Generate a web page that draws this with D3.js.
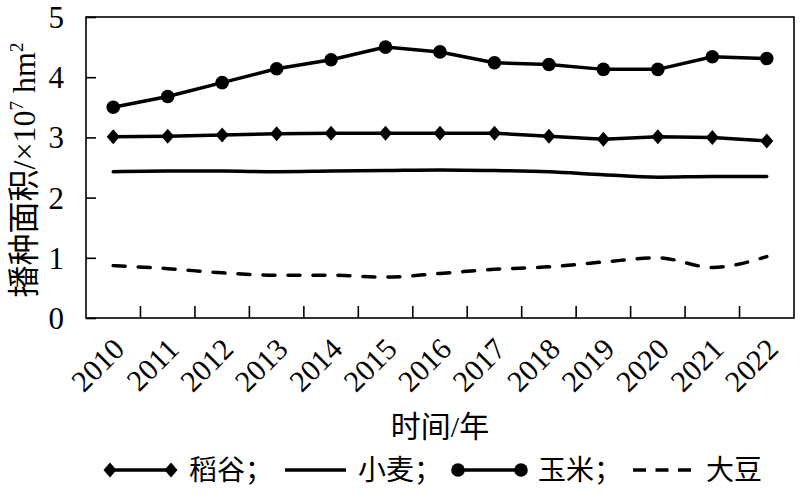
<!DOCTYPE html>
<html><head><meta charset="utf-8">
<script src="https://cdn.jsdelivr.net/npm/d3@7"></script>
<style>
body{margin:0;background:#fff;}
svg text{font-family:"Liberation Serif","Times New Roman",Times,"Noto Sans CJK SC",serif;fill:#000;}
</style></head>
<body><svg id="c" width="800" height="500"></svg>
<script>
const years = ["2010","2011","2012","2013","2014","2015","2016","2017","2018","2019","2020","2021","2022"];
const rice    = [3.01,3.02,3.04,3.06,3.07,3.07,3.07,3.07,3.02,2.97,3.01,3.00,2.94];
const wheat   = [2.43,2.44,2.44,2.43,2.44,2.45,2.46,2.45,2.43,2.38,2.34,2.35,2.35];
const corn    = [3.50,3.68,3.91,4.14,4.29,4.50,4.42,4.24,4.21,4.13,4.13,4.34,4.31];
const soybean = [0.87,0.82,0.75,0.71,0.71,0.68,0.74,0.81,0.85,0.93,1.00,0.84,1.02];
const yTicks = [0,1,2,3,4,5];
const seriesNames = ["稻谷","小麦","玉米","大豆"];

const svg = d3.select("#c");
const L=86, R=794, T=17, B=318;
const x = d3.scaleBand().domain(years).range([L,R]).padding(0);
const y = d3.scaleLinear().domain([0,5]).range([B,T]);
const cx = d => x(d)+x.bandwidth()/2;
const FONT = '"Liberation Serif","Times New Roman",Times,"Noto Sans CJK SC",serif';

// frame
svg.append("rect").attr("x",L).attr("y",T).attr("width",R-L).attr("height",B-T)
  .attr("fill","none").attr("stroke","#000").attr("stroke-width",1.6);

// y axis
const ya = svg.append("g").attr("transform",`translate(${L},0)`)
  .call(d3.axisLeft(y).tickValues(yTicks).tickSize(-10).tickPadding(22).tickFormat(d3.format("d")));
ya.attr("font-family",FONT);
ya.select(".domain").remove();
ya.selectAll(".tick line").attr("stroke","#000").attr("stroke-width",1.6);
ya.selectAll(".tick text").style("font-size","31px").attr("dy","0.34em");

// x ticks at band boundaries
const bounds = years.slice(1).map(d=>x(d));
svg.append("g").selectAll("line").data(bounds).join("line")
  .attr("x1",d=>d).attr("x2",d=>d).attr("y1",B).attr("y2",B-12)
  .attr("stroke","#000").attr("stroke-width",1.6);

// x labels
svg.append("g").selectAll("text").data(years).join("text")
  .attr("transform",d=>`translate(${cx(d)+13},${B+33}) rotate(-45)`)
  .attr("text-anchor","end").style("font-size","30px").text(d=>d);

// lines
const line = d3.line().x((d,i)=>cx(years[i])).y(d=>y(d));
const lineSmooth = d3.line().x((d,i)=>cx(years[i])).y(d=>y(d)).curve(d3.curveMonotoneX);
const g = svg.append("g");
g.append("path").attr("d",lineSmooth(wheat)).attr("fill","none").attr("stroke","#000").attr("stroke-width",3.5).attr("stroke-linecap","round");
g.append("path").attr("d",lineSmooth(soybean)).attr("fill","none").attr("stroke","#000").attr("stroke-width",3.5)
  .attr("stroke-dasharray","12,13").attr("stroke-linecap","round");
g.append("path").attr("d",line(rice)).attr("fill","none").attr("stroke","#000").attr("stroke-width",3.5);
g.append("path").attr("d",line(corn)).attr("fill","none").attr("stroke","#000").attr("stroke-width",3.5);

const diamond = (px,py,s)=>`M${px},${py-s*1.15}L${px+s},${py}L${px},${py+s*1.15}L${px-s},${py}Z`;
g.selectAll(".dm").data(rice).join("path").attr("class","dm")
  .attr("d",(d,i)=>diamond(cx(years[i]),y(d),6.5)).attr("fill","#000");
g.selectAll(".ci").data(corn).join("circle").attr("class","ci")
  .attr("cx",(d,i)=>cx(years[i])).attr("cy",d=>y(d)).attr("r",6.8).attr("fill","#000");

// axis titles
svg.append("text").attr("transform",`translate(35,170) rotate(-90)`).attr("text-anchor","middle")
  .style("font-size","32px")
  .html('播种面积/×10<tspan dy="-12" style="font-size:19px">7</tspan><tspan dy="12"> hm</tspan><tspan dy="-12" style="font-size:19px">2</tspan>');
svg.append("text").attr("x",440).attr("y",437).attr("text-anchor","middle").style("font-size","30px").text("时间/年");

// legend
const ly = 470;
const lg = svg.append("g");
const stroke = (sel)=>sel.attr("stroke","#000").attr("stroke-width",3.5).attr("fill","none");
const FS = "28px";
// rice
lg.append("line").attr("x1",110).attr("x2",171).attr("y1",ly).attr("y2",ly).call(stroke);
[110,171].forEach(px=>lg.append("path").attr("d",diamond(px,ly,6.5)).attr("fill","#000"));
lg.append("text").attr("x",189).attr("y",ly+10).style("font-size",FS).text(seriesNames[0]+"；");
// wheat
lg.append("line").attr("x1",285).attr("x2",346).attr("y1",ly).attr("y2",ly).call(stroke);
lg.append("text").attr("x",358).attr("y",ly+10).style("font-size",FS).text(seriesNames[1]+"；");
// corn
lg.append("line").attr("x1",458).attr("x2",521).attr("y1",ly).attr("y2",ly).call(stroke);
[458,521].forEach(px=>lg.append("circle").attr("cx",px).attr("cy",ly).attr("r",6.8).attr("fill","#000"));
lg.append("text").attr("x",538).attr("y",ly+10).style("font-size",FS).text(seriesNames[2]+"；");
// soybean
lg.append("line").attr("x1",633).attr("x2",691).attr("y1",ly).attr("y2",ly).call(stroke).attr("stroke-dasharray","13,9.5");
lg.append("text").attr("x",706).attr("y",ly+10).style("font-size",FS).text(seriesNames[3]);
</script></body></html>
